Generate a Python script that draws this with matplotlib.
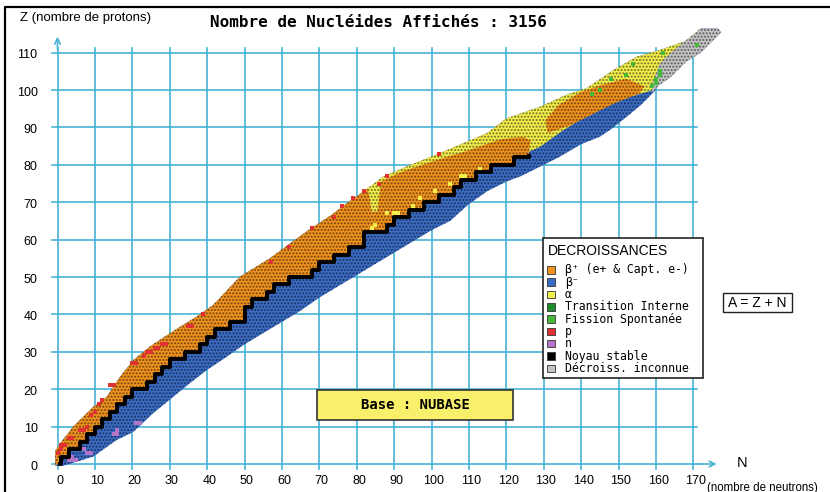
import numpy as np
import matplotlib.pyplot as plt
from matplotlib.patches import Polygon, Rectangle

# ---------------- data (N, Z) ----------------
# proton-rich edge of the band (outer edge of the lightest nuclides)
edge_p_n = [-0.6, -0.6, 0.7, 4.2, 9.6, 13.2, 16.7, 20.3, 24.7, 27.4, 32.8, 37.2, 41.6, 48.8, 56.8,
            62.2, 67.5, 73.3, 77.3, 81.8, 87.1, 94.3, 102.3, 114.8, 120.1, 129.0, 136.1, 141.5,
            148.6, 154.9, 161.1, 170.0, 172.0, 176.5]
edge_p_z = [-0.5, 3.5, 5.5, 10.0, 15.3, 18.0, 23.3, 27.8, 31.4, 33.2, 36.7, 39.4, 42.5, 50.1, 55.0,
            59.0, 62.8, 66.6, 69.7, 72.8, 76.8, 79.9, 83.1, 88.4, 92.4, 95.5, 98.7, 100.5,
            105.3, 108.9, 110.7, 113.8, 116.5, 116.5]
# neutron-rich edge of the band
edge_n_n = [1.5, 9.6, 15.8, 20.3, 25.6, 31.0, 35.4, 39.9, 45.0, 50.0, 55.0, 60.0, 65.0, 70.0, 75.0,
            80.0, 85.0, 90.0, 95.0, 100.0, 105.0, 110.0, 115.0, 120.0, 124.0, 129.0, 134.0, 140.0,
            145.0, 148.0, 150.5, 153.0, 156.0, 159.5, 160.5, 164.0, 168.0, 172.0, 175.5, 177.5]
edge_n_z = [-0.5, 2.0, 6.4, 8.6, 13.6, 18.0, 21.6, 25.1, 28.5, 32.0, 35.0, 38.0, 41.0, 44.5, 47.5,
            50.5, 53.5, 56.5, 59.5, 62.5, 65.0, 69.5, 73.0, 75.5, 77.0, 79.5, 82.0, 85.5,
            87.5, 89.5, 91.5, 93.5, 96.0, 99.5, 101.0, 103.5, 107.5, 110.0, 113.5, 115.5]

# valley of stability (black staircase), even Z
stable_z = [0, 2, 4, 6, 8, 10, 12, 14, 16, 18, 20, 22, 24, 26, 28, 30, 32, 34, 36, 38, 40, 42,
            44, 46, 48, 50, 52, 54, 56, 58, 60, 62, 64, 66, 68, 70, 72, 74, 76, 78, 80, 82, 83]
stable_n = [0, 1, 3, 6, 8, 10, 12, 14, 16, 18, 20, 24, 26, 28, 30, 34, 38, 40, 42, 46, 50, 50,
            52, 56, 58, 62, 68, 70, 74, 78, 82, 82, 88, 90, 94, 98, 102, 106, 108, 112, 116, 122, 126]

# alpha region (proton-rich heavy nuclei), outline
alpha_n = [80.5, 81.8, 87.1, 94.3, 102.3, 114.8, 120.1, 129.0, 136.1, 141.5, 148.6, 154.9, 161.1,
           170.0, 172.0, 168.2, 163.8, 161.1, 158.8,
           159.3, 153.1, 146.0, 139.7, 135.3, 129.0, 126.0, 126.5, 124.5, 118.3, 109.4, 100.5,
           91.6, 86.5, 85.5, 84.0, 83.0]
alpha_z = [72.0, 72.8, 76.8, 79.9, 83.1, 88.4, 92.4, 95.5, 98.7, 100.5, 105.3, 108.9, 110.7,
           113.8, 116.5, 113.4, 109.8, 107.1, 100.9,
           100.0, 98.2, 95.5, 92.0, 89.3, 84.8, 83.5, 86.5, 87.5, 86.8, 83.7, 81.0,
           78.0, 75.5, 67.5, 67.5, 74.0]
# beta+ island among the actinides
bplus2_n = [131.0, 137.0, 143.0, 149.0, 155.5, 157.0, 152.0, 146.0, 140.0, 134.0, 130.5]
bplus2_z = [88.5, 90.5, 93.5, 96.5, 99.0, 101.0, 103.0, 101.5, 99.5, 96.0, 92.0]
# unknown decay (super heavy tip)
unknown_n = [159.0, 160.5, 164.0, 168.0, 172.0, 175.5, 177.5, 176.5, 172.0, 168.2, 163.8, 161.1,
             158.8]
unknown_z = [99.3, 101.0, 103.5, 107.5, 110.0, 113.5, 115.5, 116.5, 116.5, 113.4, 109.8, 107.1,
             100.9]

# isolated cells
red_n = [0, 1, 1, 2, 3, 4, 6, 7, 8, 9, 10, 11, 12, 14, 15, 20, 21, 23, 24, 25, 26, 27, 28, 29,
         35, 36, 39, 57, 62, 68, 74, 76, 79, 82, 86, 88, 102]
red_z = [3, 4, 5, 5, 7, 7, 9, 9, 10, 13, 14, 16, 17, 21, 21, 27, 27, 29, 30, 30, 31, 31, 32, 32,
         37, 37, 40, 54, 58, 63, 66, 69, 71, 73, 75, 77, 83]
purple_n = [3, 4, 5, 4, 8, 9, 7, 15, 16, 16, 21, 22]
purple_z = [1, 1, 1, 2, 3, 3, 4, 8, 8, 9, 11, 11]
green_n = [143, 145, 148, 152, 154, 159, 160, 160, 161, 161, 162, 171]
green_z = [99, 100, 103, 104, 107, 101, 102, 103, 104, 105, 110, 112]
yellow_n = [84, 85, 88, 90, 91, 95, 97, 101, 105, 108, 109, 113]
yellow_z = [63, 64, 67, 67, 67, 69, 71, 73, 75, 77, 77, 79]

legend_labels = ["\u03b2\u207a (e+ & Capt. e-)", "\u03b2\u207b", "\u03b1", "Transition Interne",
                 "Fission Spontan\u00e9e", "p", "n", "Noyau stable", "D\u00e9croiss. inconnue"]
legend_colors = ["#f0921e", "#3b6cc4", "#f2ee4c", "#1e8c2e", "#46b83a", "#e03232", "#b474c8",
                 "#000000", "#c4c4c4"]

n_ticks = list(range(0, 171, 10))
z_ticks = list(range(0, 111, 10))

c_orange, c_blue, c_yellow, c_itgreen, c_sfgreen, c_red, c_purple, c_black, c_grey = legend_colors
grid_col = "#45b4d6"
sans = ["Liberation Sans", "DejaVu Sans"]
mono = ["DejaVu Sans Mono", "DejaVu Sans"]

fig = plt.figure(figsize=(8.3, 4.92), dpi=100)
ax = fig.add_axes([0, 0, 1, 1])
# 3.74 px per nucleon, N=0 at x=57.5 px, Z=0 at y=464 px
ax.set_xlim(-57.5 / 3.74, (830 - 57.5) / 3.74)
ax.set_ylim((464 - 492) / 3.74, 464 / 3.74)
ax.axis("off")

# grid
for n in n_ticks:
    ax.plot([n, n], [-1.3, 111.3], color=grid_col, lw=1.2, zorder=1)
    ax.text(n + 0.6, -4.6, str(n), ha="center", va="center", fontsize=9, family=sans)
for z in z_ticks:
    ax.plot([-1.6, 171], [z, z], color=grid_col, lw=1.2, zorder=1)
    ax.text(-5.3, z - 0.7, str(z), ha="right", va="center", fontsize=9, family=sans)
ax.annotate("", xy=(0, 115), xytext=(0, 110), zorder=1,
            arrowprops=dict(arrowstyle="->", color=grid_col, lw=1.2))
ax.annotate("", xy=(177, 0), xytext=(170, 0), zorder=1,
            arrowprops=dict(arrowstyle="->", color=grid_col, lw=1.2))

hatch = "....."
dot = (0, 0, 0, 0.5)


def region(xs, ys, color, z):
    ax.add_patch(Polygon(np.column_stack([xs, ys]), closed=True, facecolor=color,
                         edgecolor=dot, hatch=hatch, lw=0, zorder=z))


# whole band = beta-
region(edge_p_n + edge_n_n[::-1], edge_p_z + edge_n_z[::-1], c_blue, 2)

# beta+ : between proton edge and the stable staircase
sx = np.repeat(stable_n, 2)[1:]
sz = np.repeat(stable_z, 2)[:-1]
ep_n = np.array(edge_p_n)
ep_z = np.array(edge_p_z)
keep = ep_n < 125
region(np.concatenate([ep_n[keep], [127.0], sx[::-1]]),
       np.concatenate([ep_z[keep], [89.0], sz[::-1]]), c_orange, 3)

region(alpha_n, alpha_z, c_yellow, 4)
region(bplus2_n, bplus2_z, c_orange, 5)
region(unknown_n, unknown_z, c_grey, 5)

cell = 7.3
ax.scatter(red_n, red_z, marker="s", s=cell, color=c_red, lw=0, zorder=6)
ax.scatter(purple_n, purple_z, marker="s", s=cell, color=c_purple, lw=0, zorder=6)
ax.scatter(green_n, green_z, marker="s", s=cell, color=c_sfgreen, lw=0, zorder=6)
ax.scatter(yellow_n, yellow_z, marker="s", s=cell, color=c_yellow, lw=0, zorder=6)

ax.plot(stable_n, stable_z, drawstyle="steps-post", color=c_black, lw=2.8,
        solid_capstyle="butt", zorder=7)

# texts
ax.text(85.7, 118.0, "Nombre de Nucl\u00e9ides Affich\u00e9s : 3156", ha="center", va="center",
        fontsize=11.5, fontweight="bold", family=mono)
ax.text(-10.0, 119.3, "Z (nombre de protons)", ha="left", va="center", fontsize=9.5, family=sans)
ax.text(181.5, 0.3, "N", ha="left", va="center", fontsize=10.5, family=sans)
ax.text(173.7, -6.3, "(nombre de neutrons)", ha="left", va="center", fontsize=8.3, family=sans)

# legend
ax.add_patch(Rectangle((129.9, 22.9), 42.6, 37.4, facecolor="white", edgecolor="#222222",
                       lw=1.2, zorder=8))
ax.text(131.1, 57.0, "DECROISSANCES", ha="left", va="center", fontsize=10, family=sans,
        zorder=9)
for i, (lab, col) in enumerate(zip(legend_labels, legend_colors)):
    zz = 51.9 - 3.29 * i
    ax.add_patch(Rectangle((130.9, zz - 1.0), 2.0, 2.0, facecolor=col, edgecolor="#333333",
                           lw=0.6, zorder=9))
    ax.text(135.6, zz, lab, ha="left", va="center", fontsize=8.3, family=mono, zorder=9)

ax.add_patch(Rectangle((177.9, 40.6), 18.4, 5.1, facecolor="white", edgecolor="#222222",
                       lw=1.0, zorder=8))
ax.text(187.1, 43.1, "A = Z + N", ha="center", va="center", fontsize=10, family=sans, zorder=9)

ax.add_patch(Rectangle((69.4, 11.8), 52.4, 8.0, facecolor="#f8f06a", edgecolor="#333333",
                       lw=1.2, zorder=8))
ax.text(95.6, 15.8, "Base : NUBASE", ha="center", va="center", fontsize=10, fontweight="bold",
        family=mono, zorder=9)

# outer frame (left and top sides visible)
ax.plot([-14.0, -14.0, 230], [-20, 122.3, 122.3], color="black", lw=1.6, zorder=10)

fig.savefig("out.png", dpi=100)
